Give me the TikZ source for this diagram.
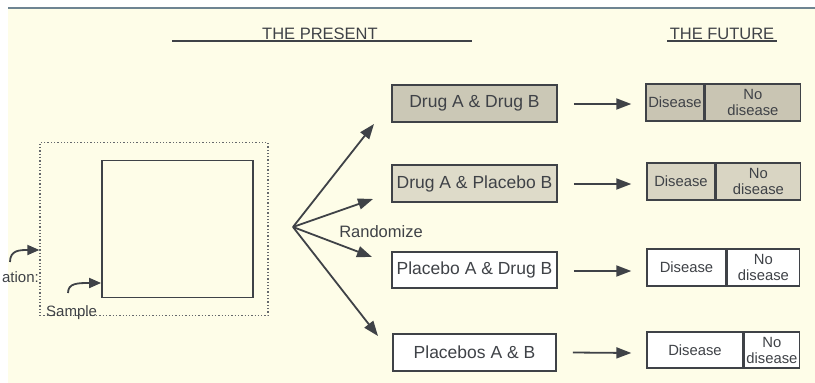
\documentclass[tikz,border=0pt]{standalone}
\usepackage{fontspec}
\setmainfont{Liberation Sans}
\usetikzlibrary{arrows.meta}
\definecolor{cream}{HTML}{FEFDE8}
\definecolor{ink}{HTML}{3F4247}
\definecolor{topline}{HTML}{6E8492}
\definecolor{shadeA}{HTML}{CBC8B6}
\definecolor{shadeB}{HTML}{DEDBC9}
\definecolor{oshadeA}{HTML}{C9C5B3}
\definecolor{oshadeB}{HTML}{D9D5C3}
\tikzset{
  box/.style={draw=ink, line width=1.6pt, inner sep=0pt, text=ink,
    font=\fontsize{17.5}{20}\selectfont},
  obox/.style={draw=ink, line width=1.4pt, inner sep=0pt, text=ink,
    font=\fontsize{14.8}{16}\selectfont, align=center},
  arr/.style={draw=ink, line width=1.8pt, -{Triangle[length=15pt,width=11pt]}},
  lbl/.style={text=ink, inner sep=0pt},
}
\begin{document}
\begin{tikzpicture}[x=1pt,y=-1pt]
\useasboundingbox (0,0) rectangle (815,383);
\fill[white] (0,0) rectangle (815,383);
\fill[cream] (8,8) rectangle (815,383);
\draw[topline, line width=2pt] (8,7.5) -- (815,7.5);

% headings
\node[lbl, anchor=base, font=\fontsize{16.5}{18}\selectfont] (present) at (320,39.5) {THE PRESENT};
\node[lbl, anchor=base, font=\fontsize{16.5}{18}\selectfont] (future) at (722,39.5) {THE FUTURE};
\coordinate (pl) at (172,41);
\coordinate (pr) at (472,41);
\draw[ink, line width=1.3pt] (pl) -- (pr);
\coordinate (fl) at (667,41);
\coordinate (fr) at (777,41);
\draw[ink, line width=1.1pt] (fl) -- (fr);

% population / sample
\node[draw=ink!80, line width=1.3pt, dotted, minimum width=228pt, minimum height=173pt, inner sep=0pt] (pop) at (154,229) {};
\node[draw=ink, line width=1.8pt, minimum width=151pt, minimum height=137pt, inner sep=0pt] (samp) at (177.5,229) {};
\node[lbl, anchor=east, font=\fontsize{15}{17}\selectfont] (poptext) at (39,277) {ation:};
\node[lbl, anchor=west, font=\fontsize{15}{17}\selectfont] (samptext) at (46,313) {Sample};
\coordinate (pa) at (10,262);
\coordinate (sa) at (68,293);
\draw[arr, -{Triangle[length=12pt,width=10pt]}] (pa) .. controls (10,250) and (20,250) .. (pop.west |- 0,250);
\draw[arr, -{Triangle[length=12pt,width=10pt]}] (sa) .. controls (68,283) and (78,283) .. (samp.west |- 0,283);

% treatment boxes
\node[box, fill=shadeA, minimum width=165pt, minimum height=37pt] (b1) at (474.5,103.5) {Drug A \& Drug B};
\node[box, fill=shadeB, minimum width=165pt, minimum height=37pt] (b2) at (474.5,183.5) {Drug A \& Placebo B};
\node[box, fill=white, minimum width=165pt, minimum height=36pt] (b3) at (474.5,270) {Placebo A \& Drug B};
\node[box, fill=white, minimum width=163pt, minimum height=37pt] (b4) at (474.5,352.5) {Placebos A \& B};

% randomize fan
\coordinate (fan) at (293,227);
\coordinate (t1) at (374,124);
\coordinate (t2) at (373,199);
\coordinate (t3) at (372,257);
\coordinate (t4) at (378,336);
\draw[arr] (fan) -- (t1);
\draw[arr] (fan) -- (t2);
\draw[arr] (fan) -- (t3);
\draw[arr] (fan) -- (t4);
\node[lbl, font=\fontsize{16.5}{18}\selectfont] (rand) at (381,232) {Randomize};

% outcome boxes
\node[obox, fill=oshadeA, minimum width=58pt, minimum height=37pt] (o1l) at (675,102.5) {Disease};
\node[obox, fill=oshadeA, minimum width=95pt, minimum height=37pt, anchor=west] (o1r) at (o1l.east) {No\\disease};
\node[obox, fill=oshadeB, minimum width=68pt, minimum height=37pt] (o2l) at (681,181.5) {Disease};
\node[obox, fill=oshadeB, minimum width=84pt, minimum height=37pt, anchor=west] (o2r) at (o2l.east) {No\\disease};
\node[obox, fill=white, minimum width=79pt, minimum height=37pt] (o3l) at (686.5,267.5) {Disease};
\node[obox, fill=white, minimum width=72pt, minimum height=37pt, anchor=west] (o3r) at (o3l.east) {No\\disease};
\node[obox, fill=white, minimum width=96pt, minimum height=36pt] (o4l) at (695,350) {Disease};
\node[obox, fill=white, minimum width=55pt, minimum height=36pt, anchor=west] (o4r) at (o4l.east) {No\\disease};

% outcome arrows
\draw[arr] ([xshift=16pt,yshift=-0.5pt]b1.east) -- ([xshift=-14pt,yshift=-1.5pt]o1l.west);
\draw[arr] ([xshift=16pt,yshift=-0.5pt]b2.east) -- ([xshift=-15pt,yshift=-2.5pt]o2l.west);
\draw[arr] ([xshift=16pt,yshift=-1pt]b3.east) -- ([xshift=-15pt,yshift=-3.5pt]o3l.west);
\draw[arr] ([xshift=16pt]b4.east) -- ([xshift=-15pt,yshift=-3pt]o4l.west);
\end{tikzpicture}
\end{document}
